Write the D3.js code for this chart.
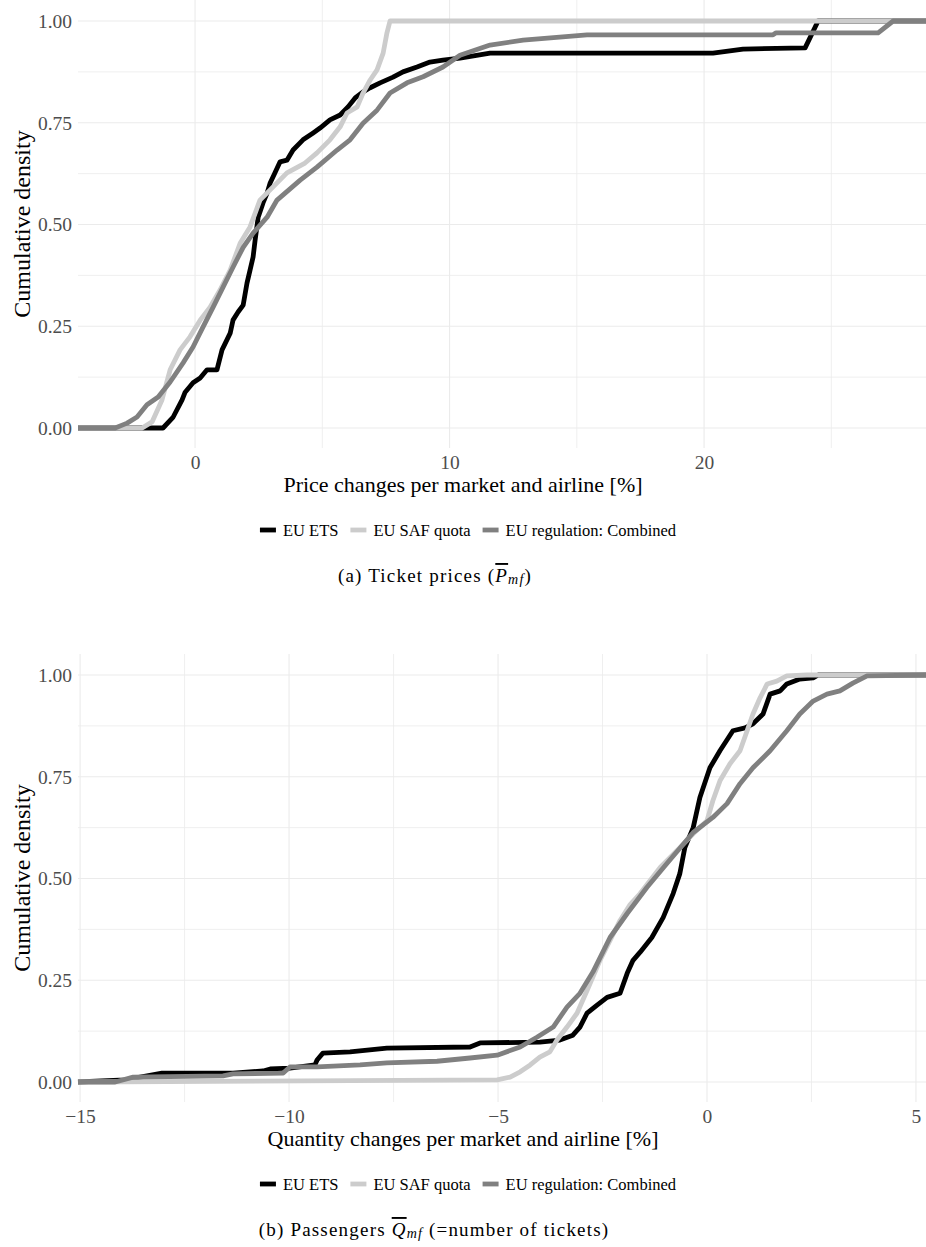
<!DOCTYPE html>
<html>
<head>
<meta charset="utf-8">
<script src="https://cdn.jsdelivr.net/npm/d3@7"></script>
<style>
  body { margin: 0; background: #fff; }
  svg { display: block; font-family: "Liberation Serif", "Times New Roman", serif; }
</style>
</head>
<body>
<div id="chart"></div>
<script>
// series names and colours
var seriesNames = ["EU ETS", "EU SAF quota", "EU regulation: Combined"];
var seriesColors = ["#000000", "#cccccc", "#808080"];

// (a) price changes [%] -> cumulative density
var etsPriceX = [-4.6, -1.26, -0.86, -0.51, -0.39, -0.08, 0.20, 0.47, 0.86, 1.06, 1.38, 1.49, 1.69, 1.89, 2.04, 2.16, 2.28, 2.36, 2.48, 2.67, 2.83, 2.95, 3.14, 3.34, 3.61, 3.85, 4.24, 4.64, 4.91, 5.30, 5.70, 6.01, 6.29, 6.60, 6.88, 7.27, 7.78, 8.17, 8.72, 9.23, 9.74, 10.41, 11.59, 20.35, 21.53, 23.97, 24.48, 28.72];
var etsPriceY = [0, 0, 0.027, 0.069, 0.088, 0.111, 0.123, 0.143, 0.143, 0.192, 0.233, 0.265, 0.285, 0.302, 0.356, 0.388, 0.420, 0.462, 0.518, 0.553, 0.577, 0.602, 0.627, 0.654, 0.658, 0.683, 0.708, 0.725, 0.737, 0.757, 0.769, 0.789, 0.811, 0.826, 0.836, 0.848, 0.862, 0.875, 0.887, 0.899, 0.904, 0.909, 0.921, 0.921, 0.931, 0.934, 1, 1];

var safPriceX = [-4.6, -2.08, -1.69, -1.30, -0.98, -0.59, -0.20, 0.20, 0.59, 0.98, 1.38, 1.77, 2.16, 2.55, 2.95, 3.61, 4.32, 4.79, 5.30, 5.70, 5.97, 6.37, 6.60, 6.88, 7.15, 7.39, 7.54, 7.66, 28.72];
var safPriceY = [0, 0, 0.015, 0.069, 0.143, 0.192, 0.224, 0.265, 0.297, 0.339, 0.388, 0.454, 0.494, 0.560, 0.585, 0.627, 0.651, 0.676, 0.708, 0.740, 0.774, 0.789, 0.823, 0.855, 0.880, 0.921, 0.971, 1, 1];

var combPriceX = [-4.6, -3.14, -2.67, -2.28, -1.89, -1.45, -0.98, -0.47, -0.08, 0.31, 0.71, 1.10, 1.49, 1.89, 2.28, 2.83, 3.22, 4.13, 4.79, 5.58, 6.09, 6.60, 7.15, 7.66, 8.33, 8.96, 9.74, 10.41, 11.59, 12.89, 15.40, 22.71, 22.83, 26.84, 27.43, 28.72];
var combPriceY = [0, 0, 0.012, 0.027, 0.057, 0.076, 0.113, 0.160, 0.199, 0.248, 0.297, 0.346, 0.395, 0.444, 0.479, 0.518, 0.560, 0.609, 0.641, 0.683, 0.708, 0.749, 0.781, 0.823, 0.848, 0.863, 0.887, 0.916, 0.941, 0.953, 0.966, 0.966, 0.971, 0.971, 1, 1];

// (b) quantity changes [%] -> cumulative density
var etsQtyX = [-15.05, -13.92, -13.04, -11.34, -10.62, -10.45, -9.98, -9.38, -9.33, -9.19, -8.54, -7.66, -5.67, -5.43, -4.00, -3.52, -3.21, -3.04, -2.87, -2.63, -2.39, -2.08, -1.91, -1.77, -1.60, -1.32, -1.05, -0.81, -0.65, -0.53, -0.33, -0.17, 0.07, 0.31, 0.62, 0.91, 1.10, 1.34, 1.51, 1.75, 1.91, 2.22, 2.54, 2.66, 5.24];
var etsQtyY = [0, 0.005, 0.022, 0.022, 0.027, 0.032, 0.034, 0.042, 0.054, 0.071, 0.074, 0.083, 0.086, 0.096, 0.098, 0.103, 0.115, 0.135, 0.169, 0.189, 0.208, 0.218, 0.267, 0.299, 0.319, 0.355, 0.404, 0.463, 0.512, 0.576, 0.625, 0.699, 0.772, 0.814, 0.863, 0.870, 0.880, 0.904, 0.953, 0.961, 0.978, 0.990, 0.993, 1, 1];

var safQtyX = [-15.05, -5.02, -4.71, -4.47, -4.23, -4.00, -3.76, -3.59, -3.35, -3.11, -2.87, -2.56, -2.32, -2.08, -1.84, -1.60, -1.12, -0.65, -0.33, 0.00, 0.14, 0.31, 0.55, 0.79, 0.96, 1.10, 1.27, 1.44, 1.67, 1.91, 2.39, 5.24];
var safQtyY = [0, 0.005, 0.012, 0.025, 0.042, 0.061, 0.074, 0.103, 0.135, 0.169, 0.225, 0.299, 0.348, 0.397, 0.436, 0.463, 0.527, 0.576, 0.610, 0.642, 0.691, 0.740, 0.782, 0.814, 0.863, 0.904, 0.944, 0.978, 0.985, 0.998, 1, 1];

var combQtyX = [-15.05, -14.16, -13.73, -11.58, -11.34, -10.14, -9.98, -9.33, -8.30, -7.66, -6.46, -5.67, -5.02, -4.47, -4.07, -3.68, -3.35, -3.04, -2.73, -2.32, -1.91, -1.44, -0.96, -0.33, 0.14, 0.48, 0.79, 1.10, 1.51, 1.91, 2.22, 2.54, 2.87, 3.18, 3.49, 3.83, 5.24];
var combQtyY = [0, 0, 0.012, 0.015, 0.020, 0.022, 0.037, 0.037, 0.042, 0.047, 0.051, 0.059, 0.066, 0.086, 0.110, 0.135, 0.184, 0.218, 0.270, 0.355, 0.414, 0.478, 0.537, 0.613, 0.650, 0.684, 0.733, 0.772, 0.814, 0.863, 0.904, 0.936, 0.953, 0.961, 0.980, 0.998, 1];

// axis ticks
var yMajor = [0, 0.25, 0.5, 0.75, 1];
var yMinor = [0.125, 0.375, 0.625, 0.875];
var priceMajor = [0, 10, 20];
var priceMinor = [5, 15, 25];
var qtyMajor = [-15, -10, -5, 0, 5];
var qtyMinor = [-12.5, -7.5, -2.5, 2.5];

var width = 926, height = 1247;

var svg = d3.select("#chart").append("svg")
    .attr("width", width)
    .attr("height", height);

function zip(xs, ys) {
    return xs.map(function(v, i) { return {x: v, y: ys[i]}; });
}

function drawPanel(opt) {
    var g = svg.append("g");
    var x = d3.scaleLinear().domain(opt.xDomain).range([78, 926]);
    var y = d3.scaleLinear().domain([0, 1]).range([opt.top + 428, opt.top + 21]);
    var pTop = opt.top, pBottom = opt.top + 448;

    // grid (minor first)
    g.selectAll(".vminor").data(opt.xMinor).enter().append("line")
        .attr("x1", function(d) { return x(d); }).attr("x2", function(d) { return x(d); })
        .attr("y1", pTop).attr("y2", pBottom)
        .attr("stroke", "#ebebeb").attr("stroke-width", 0.8);
    g.selectAll(".hminor").data(yMinor).enter().append("line")
        .attr("x1", 78).attr("x2", 926)
        .attr("y1", function(d) { return y(d); }).attr("y2", function(d) { return y(d); })
        .attr("stroke", "#ebebeb").attr("stroke-width", 0.8);
    g.selectAll(".vmajor").data(opt.xMajor).enter().append("line")
        .attr("x1", function(d) { return x(d); }).attr("x2", function(d) { return x(d); })
        .attr("y1", pTop).attr("y2", pBottom)
        .attr("stroke", "#ebebeb").attr("stroke-width", 1.1);
    g.selectAll(".hmajor").data(yMajor).enter().append("line")
        .attr("x1", 78).attr("x2", 926)
        .attr("y1", function(d) { return y(d); }).attr("y2", function(d) { return y(d); })
        .attr("stroke", "#ebebeb").attr("stroke-width", 1.1);

    // axes (text only)
    var yAxis = d3.axisLeft(y).tickValues(yMajor).tickFormat(d3.format(".2f")).tickSize(0).tickPadding(6);
    var ya = g.append("g").attr("transform", "translate(78,0)").call(yAxis);
    var xAxis = d3.axisBottom(x).tickValues(opt.xMajor).tickFormat(function(d) { return d < 0 ? "\u2212" + Math.abs(d) : d; }).tickSize(0);
    var xa = g.append("g").attr("transform", "translate(0," + pBottom + ")").call(xAxis);
    [ya, xa].forEach(function(a) {
        a.select(".domain").remove();
        a.selectAll("text").attr("font-family", "Liberation Serif").attr("font-size", 19.5).attr("fill", "#4d4d4d");
    });
    xa.selectAll("text").attr("y", 14).attr("dy", "0.35em");

    // lines
    var line = d3.line().x(function(d) { return x(d.x); }).y(function(d) { return y(d.y); });
    opt.series.forEach(function(s, i) {
        g.append("path")
            .datum(zip(s[0], s[1]))
            .attr("d", line)
            .attr("fill", "none")
            .attr("stroke", seriesColors[i])
            .attr("stroke-width", 4.8)
            .attr("stroke-linejoin", "round");
    });

    // titles
    g.append("text")
        .attr("x", 463).attr("y", pBottom + 36)
        .attr("text-anchor", "middle").attr("dominant-baseline", "central")
        .attr("font-size", 22).attr("fill", "#000")
        .text(opt.xTitle);
    g.append("text")
        .attr("transform", "translate(22," + (pTop + 224) + ") rotate(-90)")
        .attr("text-anchor", "middle").attr("dominant-baseline", "central")
        .attr("font-size", 24).attr("fill", "#000")
        .text("Cumulative density");

    // legend
    var lg = g.append("g");
    var ly = pBottom + 82, cx = 0;
    seriesNames.forEach(function(name, i) {
        lg.append("line")
            .attr("x1", cx).attr("x2", cx + 16)
            .attr("y1", ly).attr("y2", ly)
            .attr("stroke", seriesColors[i]).attr("stroke-width", 4.8);
        var t = lg.append("text")
            .attr("x", cx + 23).attr("y", ly)
            .attr("dominant-baseline", "central")
            .attr("font-size", 16.5).attr("fill", "#000")
            .text(name);
        cx += 23 + t.node().getComputedTextLength() + 12;
    });
    cx -= 12;
    lg.attr("transform", "translate(" + (468 - cx / 2) + ",0)");

    // caption
    opt.caption(g, pBottom + 127);
}

function captionText(g, cx, cy) {
    return g.append("text").attr("x", cx).attr("y", cy)
        .attr("text-anchor", "middle").attr("dominant-baseline", "central")
        .attr("font-size", 19).attr("letter-spacing", 1.2).attr("fill", "#000");
}

drawPanel({
    top: 0,
    xDomain: [-4.6, 28.72],
    xMajor: priceMajor,
    xMinor: priceMinor,
    xTitle: "Price changes per market and airline [%]",
    series: [[etsPriceX, etsPriceY], [safPriceX, safPriceY], [combPriceX, combPriceY]],
    caption: function(g, cy) {
        var t = captionText(g, 435, cy);
        t.append("tspan").text("(a) Ticket prices (");
        t.append("tspan").attr("font-style", "italic").attr("text-decoration", "overline").text("P");
        t.append("tspan").attr("font-style", "italic").attr("font-size", 14).attr("dy", 4).text("mf");
        t.append("tspan").attr("dy", -4).text(")");
    }
});

drawPanel({
    top: 654,
    xDomain: [-15.05, 5.24],
    xMajor: qtyMajor,
    xMinor: qtyMinor,
    xTitle: "Quantity changes per market and airline [%]",
    series: [[etsQtyX, etsQtyY], [safQtyX, safQtyY], [combQtyX, combQtyY]],
    caption: function(g, cy) {
        var t = captionText(g, 434, cy);
        t.append("tspan").text("(b) Passengers ");
        t.append("tspan").attr("font-style", "italic").attr("text-decoration", "overline").text("Q");
        t.append("tspan").attr("font-style", "italic").attr("font-size", 14).attr("dy", 4).text("mf");
        t.append("tspan").attr("dy", -4).text(" (=number of tickets)");
    }
});
</script>
</body>
</html>
